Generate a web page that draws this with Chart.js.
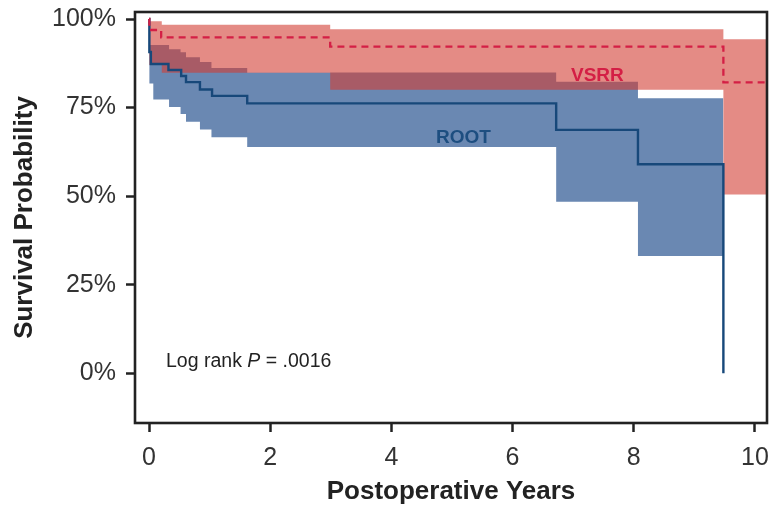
<!DOCTYPE html>
<html><head><meta charset="utf-8">
<script src="https://cdn.jsdelivr.net/npm/chart.js@4.4.1/dist/chart.umd.min.js"></script>
<style>html,body{margin:0;padding:0;background:#fff;}#wrap{width:769px;height:507px;}</style>
</head><body><div id="wrap"><canvas id="c" width="769" height="507"></canvas></div>
<script>
// ---- Data ----
const xTicks = [0, 2, 4, 6, 8, 10];
const yTicks = [0, 25, 50, 75, 100];

const rootTimes = [0, 0.005, 0.03, 0.32, 0.53, 0.61, 0.84, 1.04, 1.62, 6.72, 8.07, 9.48];
const rootSurv  = [100, 90.7, 87.3, 85.6, 83.9, 82.2, 80.1, 78.3, 76.2, 68.7, 59.0, 0];

const rootBandTimes = [0, 0.005, 0.07, 0.33, 0.52, 0.61, 0.84, 1.03, 1.62, 6.72, 8.07, 9.48];
const rootUpper     = [100, 92.7, 92.7, 91.5, 90.6, 89.2, 87.9, 86.2, 84.9, 82.3, 77.6, 77.6];
const rootLower     = [100, 81.8, 77.3, 75.2, 73.2, 71.0, 68.8, 66.6, 63.9, 48.4, 33.1, 33.1];

const vsrrTimes = [0, 0.005, 0.2, 2.99, 9.48, 10.3];
const vsrrSurv  = [100, 96.9, 94.8, 92.2, 82.1, 82.1];

const vsrrBandTimes = [0, 0.005, 0.21, 2.99, 9.48, 10.3];
const vsrrUpper     = [100, 99.4, 98.4, 97.1, 94.3, 94.3];
const vsrrLower     = [100, 87.0, 84.8, 80.0, 50.5, 50.5];

const pts = (xs, ys) => xs.map((t, i) => ({x: t, y: ys[i]}));

const FONT = '"Liberation Sans", Arial, Helvetica, sans-serif';
const BLUE_LINE = '#17487a';
const RED_LINE = '#d41f45';

const framePlugin = {
  id: 'frame',
  afterDatasetsDraw(chart) {
    const {ctx, chartArea: a, scales: {x, y}} = chart;
    ctx.save();
    ctx.textBaseline = 'alphabetic';
    ctx.textAlign = 'center';
    ctx.font = 'bold 19px ' + FONT;
    ctx.fillStyle = RED_LINE;
    ctx.fillText('VSRR', x.getPixelForValue(7.40), y.getPixelForValue(82.6));
    ctx.fillStyle = '#1d4e80';
    ctx.fillText('ROOT', x.getPixelForValue(5.19), y.getPixelForValue(65.1));
    ctx.textAlign = 'left';
    ctx.fillStyle = '#222';
    let px = x.getPixelForValue(0.28);
    const py = y.getPixelForValue(1.7);
    ctx.font = '19.5px ' + FONT;
    ctx.fillText('Log rank ', px, py);
    px += ctx.measureText('Log rank ').width;
    ctx.font = 'italic 19.5px ' + FONT;
    ctx.fillText('P', px, py);
    px += ctx.measureText('P').width;
    ctx.font = '19.5px ' + FONT;
    ctx.fillText(' = .0016', px, py);
    ctx.lineWidth = 2.6;
    ctx.strokeStyle = '#222';
    ctx.strokeRect(a.left, a.top, a.right - a.left, a.bottom - a.top);
    ctx.restore();
  }
};

new Chart(document.getElementById('c'), {
  type: 'line',
  data: {
    datasets: [
      { label: 'VSRR', data: pts(vsrrTimes, vsrrSurv), stepped: true, borderColor: RED_LINE,
        borderWidth: 2.3, borderDash: [7, 5], pointRadius: 0, fill: false, order: 0 },
      { label: 'ROOT', data: pts(rootTimes, rootSurv), stepped: true, borderColor: BLUE_LINE,
        borderWidth: 2.4, pointRadius: 0, fill: false, order: 1 },
      { label: 'VSRR upper', data: pts(vsrrBandTimes, vsrrUpper), stepped: true, borderWidth: 0,
        borderColor: 'rgba(0,0,0,0)', pointRadius: 0, fill: '+1', backgroundColor: 'rgba(210,62,52,0.6)', order: 2 },
      { label: 'VSRR lower', data: pts(vsrrBandTimes, vsrrLower), stepped: true, borderWidth: 0,
        borderColor: 'rgba(0,0,0,0)', pointRadius: 0, fill: false, order: 3 },
      { label: 'ROOT upper', data: pts(rootBandTimes, rootUpper), stepped: true, borderWidth: 0,
        borderColor: 'rgba(0,0,0,0)', pointRadius: 0, fill: '+1', backgroundColor: 'rgb(106,136,178)', order: 4 },
      { label: 'ROOT lower', data: pts(rootBandTimes, rootLower), stepped: true, borderWidth: 0,
        borderColor: 'rgba(0,0,0,0)', pointRadius: 0, fill: false, order: 5 }
    ]
  },
  options: {
    responsive: false,
    animation: false,
    devicePixelRatio: 1,
    layout: { padding: { top: 12, right: 2, left: 0, bottom: 0 } },
    plugins: { legend: { display: false }, tooltip: { enabled: false } },
    scales: {
      x: {
        type: 'linear', min: -0.232, max: 10.2,
        afterBuildTicks: s => { s.ticks = xTicks.map(v => ({value: v})); },
        afterFit: s => { s.height = 84; s.paddingLeft = 0; s.paddingRight = 0; s.paddingTop = 0; s.paddingBottom = 0; },
        border: { display: false },
        grid: { display: true, drawOnChartArea: false, drawTicks: true, tickLength: 9, tickWidth: 2.5, tickColor: '#222', color: '#222' },
        ticks: { padding: 11, color: '#333', font: { family: FONT, size: 25 }, maxRotation: 0, callback: v => String(v) },
        title: { display: true, text: 'Postoperative Years', color: '#222', font: { family: FONT, size: 26, weight: 'bold' }, padding: { top: 0, bottom: 0 } }
      },
      y: {
        type: 'linear', min: -14.03, max: 101.98,
        afterBuildTicks: s => { s.ticks = yTicks.map(v => ({value: v})); },
        afterFit: s => { s.width = 135; s.paddingLeft = 0; s.paddingRight = 0; s.paddingTop = 0; s.paddingBottom = 0; },
        border: { display: false },
        grid: { display: true, drawOnChartArea: false, drawTicks: true, tickLength: 9, tickWidth: 2.5, tickColor: '#222', color: '#222' },
        ticks: { padding: 10, color: '#333', font: { family: FONT, size: 25 }, callback: v => v + '%' },
        title: { display: true, text: 'Survival Probability', color: '#222', font: { family: FONT, size: 26, weight: 'bold' }, padding: { top: 9, bottom: 0 } }
      }
    }
  },
  plugins: [framePlugin]
});
</script></body></html>
